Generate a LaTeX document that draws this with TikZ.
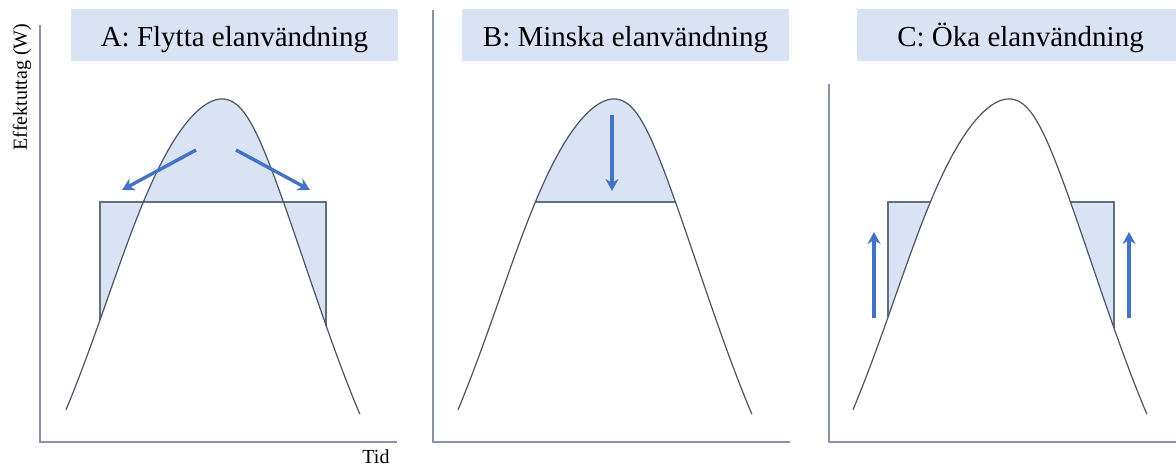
\documentclass[tikz,border=0pt]{standalone}
\usepackage{fontspec}
\setmainfont{Liberation Serif}
\usetikzlibrary{arrows.meta}
\definecolor{ljusbla}{HTML}{DAE3F3}
\definecolor{pilbla}{HTML}{4472C4}
\definecolor{kurvgra}{HTML}{4A5468}
\definecolor{axelgra}{HTML}{8A94A6}

% lastkurvan, i panelens egna koordinater (px)
\newcommand{\kurva}{plot[domain=-1.46:1.48, samples=90, variable=\t, smooth]
  ({212+100*\t+10*exp(-4*\t*\t)}, {573-474*exp(-\t*\t/2)})}
\newcommand{\kurvyta}{\kurva -- (360,430) -- (66,430) -- cycle}

\begin{document}
\begin{tikzpicture}[
  x=0.5pt, y=-0.5pt,
  axel/.style={draw=axelgra, line width=0.6pt},
  kurvlinje/.style={draw=kurvgra, line width=0.6pt},
  ram/.style={draw=kurvgra!85, line width=0.6pt},
  rubrik/.style={fill=ljusbla, minimum width=163.5pt, minimum height=26pt,
                 inner sep=0pt, text height=13pt, text depth=1pt,
                 font=\fontsize{14.5}{17}\selectfont},
  pil/.style={-{Stealth[length=6pt, width=6.5pt]}, draw=pilbla, line width=1.7pt},
  etikett/.style={font=\fontsize{10}{12}\selectfont},
]
\useasboundingbox (0,0) rectangle (1176,469);

% Axeltexter
\node[etikett, rotate=90] (ytext) at (22,87) {Effektuttag (W)};
\node[etikett] (xtext) at (376,457) {Tid};

% A: flytta
\begin{scope}
  \node[rubrik] (rubrikA) at (234.5,35) {A: Flytta elanvändning};
  \draw[axel] (40,25) -- (40,442) -- (397,442);
  \fill[ljusbla] (100,202) rectangle (326,340);
  \begin{scope} \clip (0,202) rectangle (420,469); \fill[white] \kurvyta; \end{scope}
  \begin{scope} \clip (0,0) rectangle (420,202); \fill[ljusbla] \kurvyta; \end{scope}
  \draw[ram] (100,320) -- (100,202) -- (326,202) -- (326,326);
  \draw[kurvlinje] \kurva;
  \coordinate (a1) at (196,150);
  \coordinate (a2) at (122,190);
  \coordinate (a3) at (236,150);
  \coordinate (a4) at (310,190);
  \draw[pil] (a1) -- (a2);
  \draw[pil] (a3) -- (a4);
\end{scope}

% B: minska
\begin{scope}[shift={(392,0)}]
  \node[rubrik] (rubrikB) at (233.5,35) {B: Minska elanvändning};
  \draw[axel] (41,10) -- (41,442) -- (398,442);
  \begin{scope} \clip (0,0) rectangle (420,202); \fill[ljusbla] \kurvyta; \end{scope}
  \begin{scope} \clip \kurvyta; \draw[ram] (100,202) -- (340,202); \end{scope}
  \draw[kurvlinje] \kurva;
  \coordinate (b1) at (220,115);
  \coordinate (b2) at (220,191);
  \draw[pil] (b1) -- (b2);
\end{scope}

% C: oka
\begin{scope}[shift={(787,0)}]
  \node[rubrik] (rubrikC) at (233.5,35) {C: Öka elanvändning};
  \draw[axel] (42,84) -- (42,442) -- (400,442);
  \fill[ljusbla] (101,202) rectangle (327,340);
  \draw[ram] (101,317) -- (101,202) -- (327,202) -- (327,328);
  \fill[white] \kurvyta;
  \draw[kurvlinje] \kurva;
  \coordinate (c1) at (87,318);
  \coordinate (c2) at (87,232);
  \coordinate (c3) at (342,318);
  \coordinate (c4) at (342,232);
  \draw[pil] (c1) -- (c2);
  \draw[pil] (c3) -- (c4);
\end{scope}

\end{tikzpicture}
\end{document}
